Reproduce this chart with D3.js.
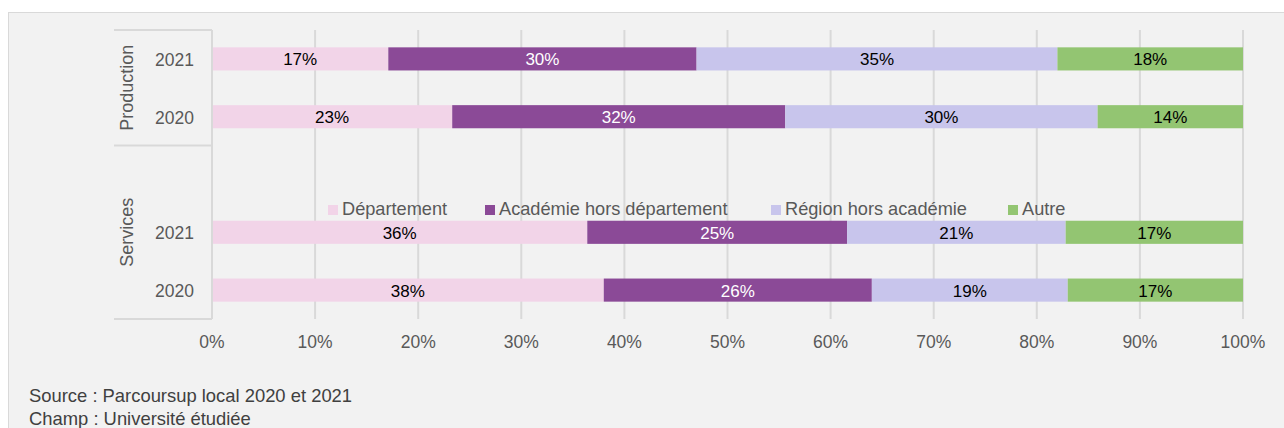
<!DOCTYPE html>
<html>
<head>
<meta charset="utf-8">
<script src="https://cdn.jsdelivr.net/npm/d3@7"></script>
<style>
  body { margin: 0; background: #fff; }
  svg { display: block; font-family: "Liberation Sans", Arial, sans-serif; }
</style>
</head>
<body>
<svg id="chart" width="1284" height="428"></svg>
<script>
const series = ["Département", "Académie hors département", "Région hors académie", "Autre"];
const colors = ["#f2d4e8", "#8b4a97", "#c8c5ec", "#93c572"];
const labelColors = ["#000", "#fff", "#000", "#000"];

const groups = ["Production", "Production", "", "Services", "Services"];
const years = ["2021", "2020", "", "2021", "2020"];
const departement = [17.1, 23.3, null, 36.4, 38.0];
const academie = [29.9, 32.3, null, 25.2, 26.0];
const region = [35.0, 30.3, null, 21.2, 19.0];
const autre = [18.0, 14.1, null, 17.2, 17.0];

const xTicks = [0, 10, 20, 30, 40, 50, 60, 70, 80, 90, 100];

const svg = d3.select("#chart");

// chart area background
svg.append("rect")
  .attr("x", 8.5).attr("y", 12.5)
  .attr("width", 1290).attr("height", 430)
  .attr("fill", "#f2f2f2")
  .attr("stroke", "#d9d9d9");

const plot = { left: 212, right: 1243, top: 30, bottom: 319 };

const rows = d3.range(years.length);
const y = d3.scaleBand().domain(rows).range([plot.top, plot.bottom]).paddingInner(0.6).paddingOuter(0.3);
const x = d3.scaleLinear().domain([0, 100]).range([plot.left, plot.right]);

// gridlines
svg.append("g")
  .selectAll("line")
  .data(xTicks)
  .join("line")
  .attr("x1", d => x(d)).attr("x2", d => x(d))
  .attr("y1", plot.top).attr("y2", plot.bottom)
  .attr("stroke", "#d9d9d9")
  .attr("stroke-width", 2);

// x axis labels
svg.append("g")
  .selectAll("text")
  .data(xTicks)
  .join("text")
  .attr("x", d => x(d))
  .attr("y", 348)
  .attr("text-anchor", "middle")
  .attr("font-size", 17.5)
  .attr("fill", "#595959")
  .text(d => d + "%");

// category axis structure
const axisG = svg.append("g").attr("stroke", "#d9d9d9").attr("stroke-width", 2);
const step = y.step();
const groupEdges = [plot.top, plot.top + 2 * step, plot.bottom];
axisG.selectAll("line")
  .data(groupEdges)
  .join("line")
  .attr("x1", 114).attr("x2", plot.left)
  .attr("y1", d => d).attr("y2", d => d);

// stacked bars
const data = rows.filter(i => years[i] !== "").map(i => ({
  row: i,
  values: [departement[i], academie[i], region[i], autre[i]]
}));

const barG = svg.append("g");
data.forEach(d => {
  let acc = 0;
  d.values.forEach((v, k) => {
    const x0 = acc;
    acc += v;
    barG.append("rect")
      .attr("x", x(x0))
      .attr("y", y(d.row))
      .attr("width", x(acc) - x(x0))
      .attr("height", y.bandwidth())
      .attr("fill", colors[k]);
    barG.append("text")
      .attr("x", (x(x0) + x(acc)) / 2)
      .attr("y", y(d.row) + y.bandwidth() / 2 + 6.5)
      .attr("text-anchor", "middle")
      .attr("font-size", 17)
      .attr("fill", labelColors[k])
      .text(Math.round(v) + "%");
  });
});

// vertical axis line at 0
svg.append("line")
  .attr("x1", plot.left).attr("x2", plot.left)
  .attr("y1", plot.top).attr("y2", plot.bottom)
  .attr("stroke", "#d9d9d9").attr("stroke-width", 2);

// year labels
svg.append("g")
  .selectAll("text")
  .data(data)
  .join("text")
  .attr("x", 174.5)
  .attr("y", d => y(d.row) + y.bandwidth() / 2 + 7)
  .attr("text-anchor", "middle")
  .attr("font-size", 17.5)
  .attr("fill", "#595959")
  .text(d => years[d.row]);

// group labels (rotated)
const groupLabels = [
  { name: "Production", y0: groupEdges[0], y1: groupEdges[1] },
  { name: "Services", y0: groupEdges[1], y1: groupEdges[2] }
];
svg.append("g")
  .selectAll("text")
  .data(groupLabels)
  .join("text")
  .attr("transform", d => `translate(133,${(d.y0 + d.y1) / 2}) rotate(-90)`)
  .attr("text-anchor", "middle")
  .attr("font-size", 18)
  .attr("fill", "#595959")
  .text(d => d.name);

// legend
const legendX = [328, 485, 771, 1008];
const legend = svg.append("g")
  .selectAll("g")
  .data(series)
  .join("g")
  .attr("transform", (d, i) => `translate(${legendX[i]},215)`);
legend.append("rect")
  .attr("x", 0).attr("y", -10)
  .attr("width", 10).attr("height", 10)
  .attr("fill", (d, i) => colors[i]);
legend.append("text")
  .attr("x", 14)
  .attr("y", 0)
  .attr("font-size", 18.2)
  .attr("fill", "#595959")
  .text(d => d);

// footer
svg.append("text")
  .attr("x", 29).attr("y", 402)
  .attr("font-size", 18.4)
  .attr("fill", "#404040")
  .text("Source : Parcoursup local 2020 et 2021");
svg.append("text")
  .attr("x", 29).attr("y", 425)
  .attr("font-size", 18.4)
  .attr("fill", "#404040")
  .text("Champ : Université étudiée");
</script>
</body>
</html>
